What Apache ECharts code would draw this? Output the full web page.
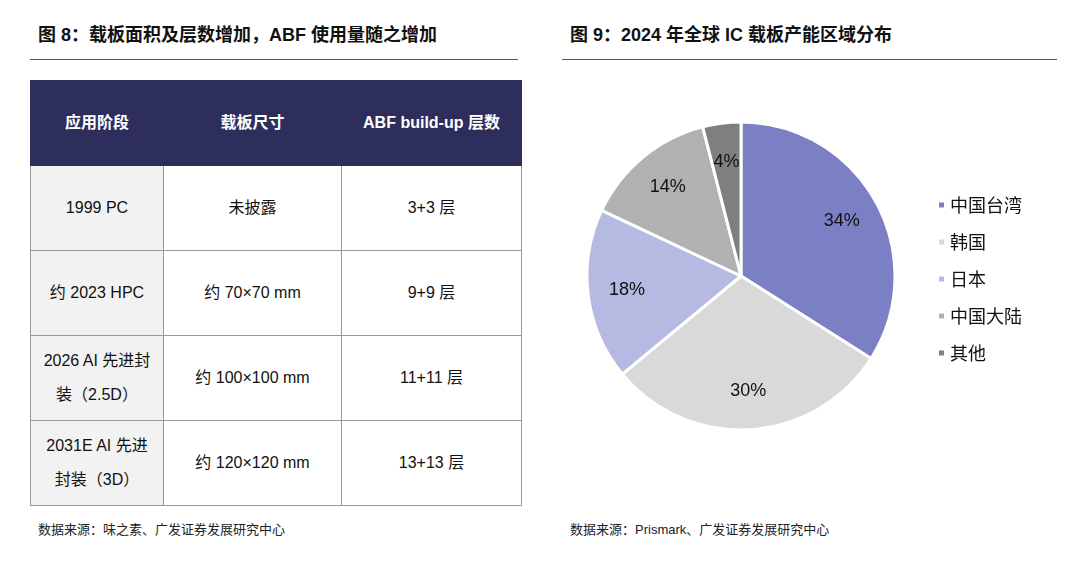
<!DOCTYPE html>
<html>
<head>
<meta charset="utf-8">
<script src="https://cdn.jsdelivr.net/npm/echarts@6/dist/echarts.min.js"></script>
<style>
body{margin:0;width:1070px;height:570px;background:#fff;font-family:"Liberation Sans","Noto Sans CJK SC",sans-serif;position:relative;overflow:hidden}
.title{position:absolute;top:20px;font-size:18px;font-weight:bold;color:#111}
.rule{position:absolute;top:59px;height:1px;background:#555}
.src{position:absolute;top:519px;font-size:13px;color:#222}
table{position:absolute;left:30px;top:80px;border-collapse:collapse;font-size:16px;color:#111}
td,th{border:1px solid #999;text-align:center;line-height:34px}
th{background:#2d2e5c;color:#fff;height:82px;font-weight:bold;border-color:#2d2e5c}
td{height:82px;background:#fff}
td.c1{background:#f2f2f2}
#pie{position:absolute;left:540px;top:70px;width:530px;height:430px}
</style>
</head>
<body>
<div class="title" style="left:38px">图 8：载板面积及层数增加，ABF 使用量随之增加</div>
<div class="rule" style="left:30px;width:488px"></div>
<table id="tbl"></table>
<div class="src" style="left:38px">数据来源：味之素、广发证券发展研究中心</div>

<div class="title" style="left:570px">图 9：2024 年全球 IC 载板产能区域分布</div>
<div class="rule" style="left:562px;width:495px"></div>
<div id="pie"></div>
<div class="src" style="left:570px">数据来源：Prismark、广发证券发展研究中心</div>
<script>
// 表格数据
var headers = ['应用阶段', '载板尺寸', 'ABF build-up 层数'];
var stages = ['1999 PC', '约 2023 HPC', '2026 AI 先进封<br>装（2.5D）', '2031E AI 先进<br>封装（3D）'];
var sizes = ['未披露', '约 70×70 mm', '约 100×100 mm', '约 120×120 mm'];
var layers = ['3+3 层', '9+9 层', '11+11 层', '13+13 层'];
var widths = [130, 175, 177];

var html = '<tr>';
headers.forEach(function (h, i) {
    html += '<th style="width:' + widths[i] + 'px">' + h + '</th>';
});
html += '</tr>';
for (var i = 0; i < stages.length; i++) {
    html += '<tr><td class="c1">' + stages[i] + '</td><td>' + sizes[i] + '</td><td>' + layers[i] + '</td></tr>';
}
document.getElementById('tbl').innerHTML = html;

// 饼图数据
var regions = ['中国台湾', '韩国', '日本', '中国大陆', '其他'];
var shares = [34, 30, 18, 14, 4];
var colors = ['#7b7fc4', '#d9d9d9', '#b6b9e1', '#b1b1b1', '#7f7f7f'];

var d = regions.map(function (n, i) { return {name: n, value: shares[i]}; });
var chart = echarts.init(document.getElementById('pie'));
chart.setOption({
    color: colors,
    animation: false,
    legend: {
        orient: 'vertical', left: 392, top: 121, itemGap: 19,
        icon: 'rect', itemWidth: 7, itemHeight: 7,
        textStyle: {fontSize: 18, color: '#111', fontFamily: 'Noto Sans CJK SC'},
        data: regions
    },
    series: [{
        type: 'pie', center: [201, 206], radius: [0, 154], startAngle: 90,
        silent: true, label: {show: false},
        itemStyle: {borderColor: '#fff', borderWidth: 3},
        data: d
    }, {
        type: 'pie', center: [201, 206], radius: [70, 154], startAngle: 90,
        silent: true,
        itemStyle: {color: 'transparent', borderWidth: 0},
        label: {show: true, position: 'inside', formatter: '{c}%', fontSize: 18, color: '#111'},
        data: d
    }]
});
</script>
</body>
</html>
